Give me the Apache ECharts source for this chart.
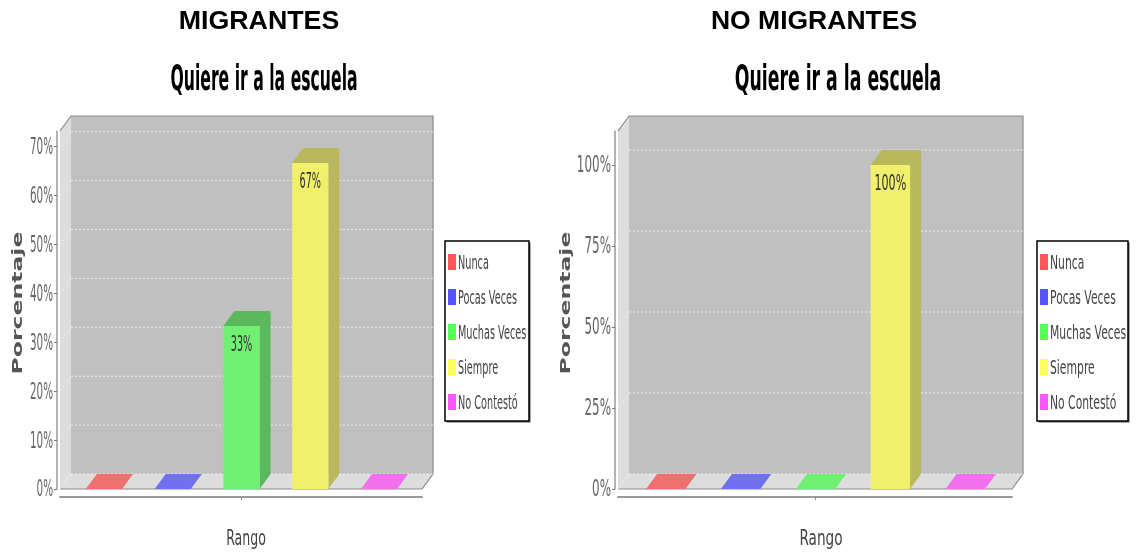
<!DOCTYPE html>
<html><head><meta charset="utf-8">
<style>html,body{margin:0;padding:0;background:#fff}#c{width:1138px;height:554px}</style>
<script src="https://cdn.jsdelivr.net/npm/echarts@6/dist/echarts.min.js"></script>
</head><body><div id="c"></div>
<script>
const categories = ['Nunca','Pocas Veces','Muchas Veces','Siempre','No Contestó'];
const migrantesValues = [0,0,33.33,66.67,0];
const noMigrantesValues = [0,0,0,100,0];
const migrantesTicks = [0,10,20,30,40,50,60,70];
const noMigrantesTicks = [0,25,50,75,100];
const panelTitles = ['MIGRANTES','NO MIGRANTES'];
const chartTitle = 'Quiere ir a la escuela';
const yName = 'Porcentaje', xName = 'Rango';

const front = ['#f07070','#7070f0','#70f070','#f0f06c','#f070f0'];
const dark  = ['#b85c5c','#5c5cb8','#5cb85c','#b8b85c','#b85cb8'];
const legendColors = ['#ff5555','#5555ff','#55ff55','#ffff55','#ff55ff'];
const DX = 11, DY = -15;
const FONT = '"DejaVu Sans",sans-serif';
const tickScale = [0.45,0.52], barLabelScale = [0.46,0.53];

function wallSeries(idx, ticks){
  return {
    type:'custom', name:'_wall'+idx, xAxisIndex:idx, yAxisIndex:idx, z:1, silent:true,
    data:[[0,0]], encode:{x:0,y:1}, tooltip:{show:false},
    renderItem(params, api){
      const c = params.coordSys, l=c.x, r=c.x+c.width, t=c.y, b=c.y+c.height;
      const kids = [
        {type:'polygon',shape:{points:[[l,t],[l+DX,t+DY],[l+DX,b+DY],[l,b]]},style:{fill:'#dddddd'}},
        {type:'polygon',shape:{points:[[l,b],[l+DX,b+DY],[r+DX,b+DY],[r,b]]},style:{fill:'#dddddd'}},
        {type:'rect',shape:{x:l+DX,y:t+DY,width:c.width,height:c.height},style:{fill:'#c0c0c0'}},
        {type:'polyline',shape:{points:[[l,t],[l+DX,t+DY],[r+DX,t+DY],[r+DX,b+DY],[r,b],[l,b]]},style:{fill:null,stroke:'#8a8a8a',lineWidth:1.2}}
      ];
      ticks.forEach(v=>{
        const y = api.coord([0,v])[1];
        kids.push({type:'line',shape:{x1:l+DX,y1:y+DY,x2:r+DX,y2:y+DY},style:{stroke:'rgba(255,255,255,0.7)',lineWidth:1,lineDash:[2,2]}});
        kids.push({type:'line',shape:{x1:l,y1:y,x2:l+DX,y2:y+DY},style:{stroke:'rgba(255,255,255,0.45)',lineWidth:1,lineDash:[2,2]}});
        kids.push({type:'text',x:l-7,y:y+1.5,scaleX:tickScale[idx],style:{text:v+'%',align:'right',verticalAlign:'middle',fill:'#666',font:'23px '+FONT}});
      });
      return {type:'group',children:kids};
    }
  };
}
function barSeries(idx, values, i){
  return {
    type:'custom', name:categories[i], xAxisIndex:idx, yAxisIndex:idx, z:3,
    itemStyle:{color:legendColors[i]},
    data:[[0,values[i]]], encode:{x:0,y:1},
    renderItem(params, api){
      const band = api.size([1,0])[0];
      const w = band*0.1, cx = api.coord([0,0])[0] + (i-2)*band*0.19 + 0.5;
      const x0 = cx-w/2, x1 = cx+w/2;
      const yb = api.coord([0,0])[1], yt = api.coord([0,api.value(1)])[1];
      const kids = [];
      kids.push({type:'polygon',shape:{points:[[x0,yt],[x0+DX,yt+DY],[x1+DX,yt+DY],[x1,yt]]},style:{fill:values[i]>0?dark[i]:front[i]}});
      if(values[i]>0){
        kids.push({type:'polygon',shape:{points:[[x1,yt],[x1+DX,yt+DY],[x1+DX,yb+DY],[x1,yb]]},style:{fill:dark[i]}});
        kids.push({type:'rect',shape:{x:x0,y:yt,width:w,height:yb-yt},style:{fill:front[i]}});
        kids.push({type:'text',x:cx,y:yt+20,scaleX:barLabelScale[idx],style:{text:Math.round(values[i])+'%',align:'center',verticalAlign:'middle',fill:'#333',font:'21px '+FONT}});
      }
      return {type:'group',children:kids};
    }
  };
}
function xAxis(idx){
  return {type:'category',gridIndex:idx,data:[''],offset:8,
    axisLine:{show:true,onZero:false,lineStyle:{color:'#999',width:2}},
    axisTick:{show:true,alignWithLabel:true,length:3,lineStyle:{color:'#888'}},
    axisLabel:{show:false},splitLine:{show:false}};
}
function yAxis(idx,max,ticks){
  return {type:'value',gridIndex:idx,min:0,max:max,offset:3,
    axisLine:{show:true,lineStyle:{color:'#999',width:1.5}},
    axisTick:{show:true,length:3,customValues:ticks,lineStyle:{color:'#777'}},
    axisLabel:{show:false},splitLine:{show:false}};
}
function txt(x,y,text,font,fill,scaleX,extra){
  return Object.assign({type:'text',x:x,y:y,scaleX:scaleX,z:10,silent:true,
    style:{text:text,font:font,fill:fill,align:'center',verticalAlign:'middle'}},extra||{});
}
function legendBox(left,width,scale){
  const kids=[{type:'rect',shape:{x:left+1.5,y:242.5,width:width,height:180},style:{fill:'#555'},z:10,silent:true},
              {type:'rect',shape:{x:left,y:241,width:width,height:180},style:{fill:'#fff',stroke:'#000',lineWidth:1.5},z:10,silent:true}];
  categories.forEach((name,i)=>{
    const y = 262+i*35;
    kids.push({type:'rect',shape:{x:left+3,y:y-8,width:8,height:16},style:{fill:legendColors[i]},z:11,silent:true});
    kids.push({type:'text',x:left+13,y:y+1.5,scaleX:scale,z:11,silent:true,style:{text:name,font:'20px '+FONT,fill:'#444',align:'left',verticalAlign:'middle'}});
  });
  return kids;
}
const graphics = [
  txt(259,22,panelTitles[0],'bold 25px "Liberation Sans",sans-serif','#000',1.07),
  txt(814,22,panelTitles[1],'bold 25px "Liberation Sans",sans-serif','#000',1.06),
  txt(264,81,chartTitle,'bold 36px '+FONT,'#000',0.435),
  txt(838,81,chartTitle,'bold 36px '+FONT,'#000',0.48),
  txt(246,539,xName,'22px '+FONT,'#444',0.57),
  txt(821,539,xName,'22px '+FONT,'#444',0.62),
  txt(18,303,yName,'bold 14px '+FONT,'#555',1.68,{rotation:Math.PI/2}),
  txt(566,303,yName,'bold 14px '+FONT,'#555',1.68,{rotation:Math.PI/2})
].concat(legendBox(445,84,0.485),legendBox(1037,91,0.54));

const chart = echarts.init(document.getElementById('c'),null,{renderer:'canvas'});
chart.setOption({
  animation:false,backgroundColor:'#fff',
  grid:[{left:60,top:131,width:362,height:358},{left:618,top:131,width:394,height:358}],
  xAxis:[xAxis(0),xAxis(1)],
  yAxis:[yAxis(0,73.2,migrantesTicks),yAxis(1,110.5,noMigrantesTicks)],
  graphic:{elements:graphics},
  series:[wallSeries(0,migrantesTicks),wallSeries(1,noMigrantesTicks)]
    .concat(categories.map((_,i)=>barSeries(0,migrantesValues,i)))
    .concat(categories.map((_,i)=>barSeries(1,noMigrantesValues,i)))
});
</script></body></html>
